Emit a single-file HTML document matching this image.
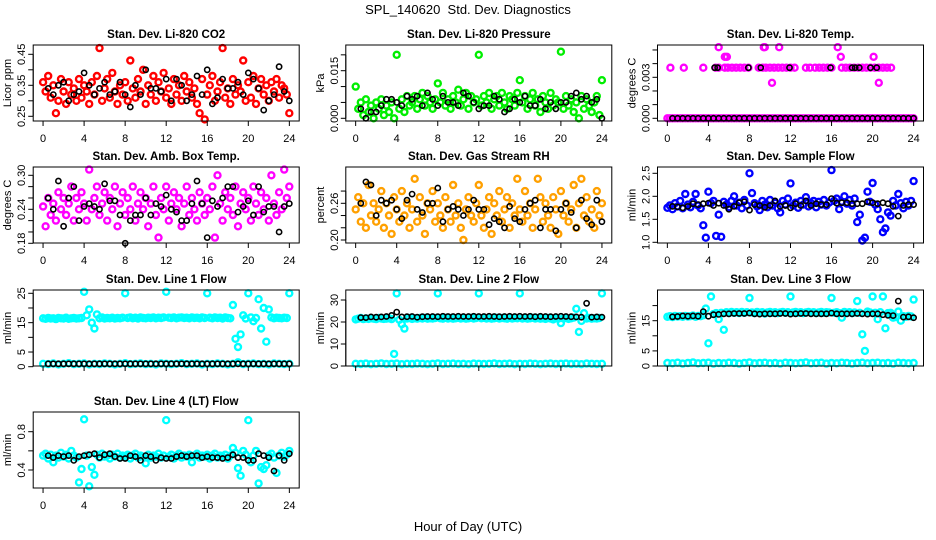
<!DOCTYPE html>
<html><head><meta charset="utf-8"><style>
html,body{margin:0;padding:0;background:#fff;}
svg{display:block;font-family:"Liberation Sans",Arial,sans-serif;}
</style></head><body>
<svg id="chart" width="936" height="540" viewBox="0 0 936 540">
<rect width="936" height="540" fill="#fff"/>
<text x="468" y="14" text-anchor="middle" font-size="13">SPL_140620&#160; Std. Dev. Diagnostics</text>
<text x="468" y="531" text-anchor="middle" font-size="13">Hour of Day (UTC)</text>
</svg>
<script>
// ---- data ----
const xTicks = [0,4,8,12,16,20,24];
const co2 = [.36,.33,.38,.31,.35,.26,.30,.37,.33,.29,.36,.32,.34,.30,.37,.31,.35,.33,.29,.36,.32,.38,.47,.30,.34,.37,.31,.39,.33,.29,.35,.32,.36,.30,.43,.34,.31,.37,.33,.40,.29,.35,.32,.38,.30,.36,.33,.39,.31,.34,.29,.37,.32,.35,.30,.38,.33,.36,.31,.34,.29,.26,.37,.24,.32,.35,.38,.30,.33,.36,.47,.31,.34,.29,.37,.32,.35,.33,.43,.30,.36,.31,.38,.29,.34,.37,.32,.35,.30,.36,.33,.37,.31,.35,.34,.32,.26];
const co2Blk = [.34,.32,.35,.36,.30,.32,.33,.39,.35,.32,.34,.36,.32,.33,.36,.32,.28,.35,.32,.40,.34,.34,.33,.37,.30,.37,.35,.30,.32,.38,.32,.40,.29,.31,.37,.34,.34,.36,.32,.39,.37,.34,.27,.30,.32,.41,.33,.30];
const pres = [.010,.003,.005,.001,.006,.002,.004,.000,.005,.003,.006,.001,.004,.002,.005,.000,.020,.003,.006,.002,.007,.004,.005,.007,.003,.006,.008,.004,.007,.005,.003,.006,.011,.005,.008,.004,.006,.003,.007,.005,.009,.004,.006,.008,.003,.007,.005,.006,.020,.004,.007,.005,.008,.003,.006,.007,.004,.008,.005,.003,.007,.006,.004,.008,.012,.005,.007,.003,.006,.008,.004,.006,.002,.007,.005,.003,.008,.004,.006,.005,.021,.003,.007,.004,.006,.002,.005,.000,.007,.003,.006,.004,.002,.005,.007,.001,.012];
const presBlk = [.003,.000,.002,.002,.004,.006,.006,.005,.004,.007,.006,.007,.004,.008,.006,.004,.007,.005,.005,.004,.008,.007,.005,.003,.004,.004,.007,.006,.002,.003,.006,.005,.007,.004,.004,.006,.003,.005,.003,.005,.005,.007,.008,.006,.007,.005,.006,.000];
const tempHours = [0.3,1.6,3.5,4.7,5.0,5.6,5.9,6.3,6.7,7.1,7.5,7.9,8.9,9.3,9.6,10.0,10.4,10.8,11.2,11.6,12.0,12.4,13.5,13.9,14.4,14.8,15.2,15.6,16.0,17.0,17.4,17.8,18.2,18.6,19.0,19.4,19.8,20.2,20.6,21.0,21.4,21.8,5.0,5.6,5.8,9.4,9.5,10.2,10.9,16.6,16.9,20.1,20.6];
const tempVals = [.0037,.0037,.0037,.0037,.0037,.0037,.0037,.0037,.0037,.0037,.0037,.0037,.0037,.0037,.0037,.0037,.0037,.0037,.0037,.0037,.0037,.0037,.0037,.0037,.0037,.0037,.0037,.0037,.0037,.0037,.0037,.0037,.0037,.0037,.0037,.0037,.0037,.0037,.0037,.0037,.0037,.0037,.0052,.0045,.0045,.0052,.0052,.0026,.0052,.0052,.0045,.0045,.0026];
const tempZero = [0,0,0,0,0,0,0,0,0,0,0,0,0,0,0,0,0,0,0,0,0,0,0,0,0,0,0,0,0,0,0,0,0,0,0,0,0,0,0,0,0,0,0,0,0,0,0,0,0,0,0,0,0,0,0,0,0,0,0,0,0,0,0,0,0,0,0,0,0,0,0,0,0,0,0,0,0,0,0,0,0,0,0,0,0,0,0,0,0,0,0,0,0,0,0,0,0];
const tempBlkHours = [4.6,4.9,7.9,9.1,11.9,15.9,18.0,18.3,18.7,19.8,20.4];
const tempBlkVals = [.0037,.0037,.0037,.0037,.0037,.0037,.0037,.0037,.0037,.0037,.0037];
const tempBlkZero = [0,0,0,0,0,0,0,0,0,0,0,0,0,0,0,0,0,0,0,0,0,0,0,0,0,0,0,0,0,0,0,0,0,0,0,0,0,0,0,0,0,0,0,0,0,0,0,0];
const amb = [.245,.21,.26,.23,.25,.22,.27,.24,.26,.23,.25,.28,.22,.26,.24,.27,.25,.22,.31,.24,.26,.28,.23,.25,.27,.22,.26,.24,.28,.21,.25,.27,.23,.26,.24,.28,.22,.25,.27,.24,.26,.21,.25,.28,.23,.19,.26,.24,.28,.22,.25,.27,.24,.26,.21,.25,.28,.23,.26,.24,.22,.27,.25,.23,.26,.24,.28,.19,.30,.25,.22,.27,.24,.26,.23,.28,.21,.25,.27,.24,.26,.22,.28,.25,.23,.27,.24,.26,.22,.30,.25,.23,.27,.24,.31,.26,.28];
const ambBlk = [.26,.24,.29,.21,.26,.28,.22,.245,.25,.245,.24,.285,.255,.255,.23,.18,.22,.23,.23,.26,.23,.25,.245,.265,.24,.235,.22,.22,.25,.29,.25,.19,.255,.245,.26,.28,.28,.235,.245,.255,.23,.28,.235,.245,.245,.20,.245,.25];
const rh = [.25,.27,.23,.26,.22,.29,.24,.26,.23,.25,.28,.22,.26,.24,.21,.27,.25,.23,.28,.24,.26,.22,.25,.30,.23,.27,.24,.21,.26,.25,.28,.23,.26,.24,.22,.27,.25,.23,.29,.24,.26,.22,.20,.25,.27,.24,.23,.26,.29,.24,.22,.25,.27,.21,.26,.24,.28,.23,.25,.27,.22,.26,.24,.30,.25,.23,.28,.24,.26,.22,.25,.30,.27,.23,.26,.24,.22,.27,.25,.21,.28,.24,.26,.23,.25,.29,.22,.26,.30,.24,.27,.23,.25,.22,.28,.24,.26];
const rhBlk = [.26,.295,.29,.24,.265,.26,.265,.25,.235,.265,.275,.25,.245,.26,.26,.285,.23,.25,.255,.25,.24,.25,.265,.25,.25,.225,.235,.23,.22,.255,.235,.23,.25,.26,.265,.22,.25,.25,.215,.25,.26,.245,.22,.265,.235,.225,.265,.23];
const sflow = [1.75,1.8,1.72,1.85,1.78,1.9,1.74,2.05,1.82,1.76,1.88,2.05,1.8,1.74,1.37,1.1,2.1,1.85,1.9,1.14,1.6,1.12,1.88,1.82,1.76,1.9,2.0,1.8,1.86,1.74,1.92,1.8,2.5,2.07,1.85,1.78,1.7,1.9,1.82,1.76,1.92,1.8,1.86,1.74,1.65,1.9,1.82,1.95,2.28,1.8,1.86,1.75,1.9,1.82,1.98,1.78,1.85,1.9,1.76,1.88,1.82,1.92,1.8,1.86,2.57,1.9,1.95,1.72,1.88,2.0,1.84,1.92,1.8,1.95,1.44,1.6,1.04,1.1,2.1,1.88,2.29,1.82,1.72,1.5,1.22,1.3,1.65,1.58,1.9,1.8,2.05,1.85,1.74,1.88,1.8,1.9,2.33];
const sflowBlk = [1.78,1.77,1.75,1.78,1.84,1.82,1.84,1.85,1.8,1.85,1.8,1.72,1.78,1.86,1.88,1.7,1.82,1.8,1.76,1.8,1.9,1.78,1.8,1.75,1.84,1.8,1.9,1.8,1.84,1.82,1.82,1.95,1.85,1.86,1.86,1.84,1.84,1.84,1.88,1.86,1.84,1.86,1.84,1.78,1.57,1.8,1.82,1.82];
const line1 = [16.5,16.3,16.6,16.4,16.5,16.2,16.6,16.5,16.4,16.7,16.3,16.5,16.6,16.4,16.5,16.6,25.5,17.5,19.5,15,13,17.8,16.5,16.8,16.4,16.6,16.5,16.7,16.4,16.6,16.5,16.7,25,16.6,16.8,16.5,16.7,16.4,16.8,16.6,16.5,16.7,16.6,16.8,16.5,16.7,16.6,16.8,25.5,16.7,16.6,16.8,16.5,16.7,16.8,16.6,16.7,16.5,16.8,16.6,16.7,16.5,16.8,16.6,25,16.7,16.5,16.8,16.6,16.7,16.4,16.8,16.6,16.5,21,9.5,6.7,11,17.5,16.4,25,16.8,15.5,16.6,23,13,20,8.5,19.5,16.8,16.5,16.7,16.6,16.5,16.7,16.6,25];
const line1Low = [1.0,0.9,1.1,0.8,1.0,1.2,0.9,1.0,1.1,0.8,1.0,0.9,1.1,1.0,0.8,1.0,1.2,0.9,1.0,1.1,0.9,1.0,0.8,1.1,1.0,0.9,1.0,1.2,0.9,1.0,1.1,0.8,1.0,0.9,1.1,1.0,0.8,1.0,1.5,0.9,1.0,1.1,0.9,1.0,0.8,1.1,1.0,0.9,1.0];
const line1Blk = [1,1,1,1,1,1,1,1,1,1,1,1,1,1,1,1,1,1,1,1,1,1,1,1,1,1,1,1,1,1,1,1,1,1,1,1,1,1,1,1,1,1,1,1,1,1,1,1];
const line2 = [21.2,21.5,21.8,21.3,21.6,21.4,21.7,21.5,21.3,21.8,21.6,21.4,21.5,21.7,21.3,5.5,33,21,19,17,21.6,21.8,21.4,21.7,21.5,21.8,21.6,21.9,21.5,21.7,21.6,21.8,33,21.7,21.5,21.9,21.6,21.8,21.5,21.7,21.9,21.6,21.8,21.5,21.7,21.9,21.6,21.8,33,21.7,21.9,21.6,21.8,21.5,21.7,21.9,21.6,21.8,21.7,21.5,21.9,21.6,21.8,21.7,33,21.6,21.8,21.5,21.7,21.9,21.6,21.8,21.5,21.7,21.4,21.8,21.6,21.2,21.7,21.5,19.5,21.6,21.8,21.4,21.7,22,26,15.5,20.5,24,21.6,21.8,21.5,21.7,21.6,21.8,33];
const line2Low = [1.0,0.9,1.1,0.8,1.0,1.2,0.9,1.0,1.1,0.8,1.0,0.9,1.1,1.0,0.8,1.0,1.2,0.9,1.0,1.1,0.9,1.0,0.8,1.1,1.0,0.9,1.0,1.2,0.9,1.0,1.1,0.8,1.0,0.9,1.1,1.0,0.8,1.0,1.1,0.9,1.0,1.1,0.9,1.0,0.8,1.1,1.0,0.9,1.0];
const line2Blk = [22,22,22.3,22.2,22.3,22.5,23,24.5,22.3,22.4,22.5,22.2,22.4,22.5,22.5,22.4,22.6,22.5,22.5,22.6,22.5,22.5,22.6,22.5,22.5,22.6,22.5,22.4,22.5,22.6,22.5,22.6,22.5,22.6,22.4,22.6,22.5,22.4,22.5,22.6,22.5,22.4,22.3,22.2,28.5,22.2,22.3,22.2];
const line3 = [16.3,16.5,16.2,16.6,16.4,16.5,16.3,16.6,16.4,16.5,16.7,16.3,16.6,16.5,16.8,19,7.5,23,17.2,17.5,15.5,17.6,12,17.8,17.5,17.9,17.6,17.8,17.5,17.9,17.6,17.8,22.5,17.7,17.5,17.9,17.6,17.8,17.4,17.7,17.9,17.6,17.8,17.5,17.7,17.9,17.6,17.8,23,17.7,17.9,17.6,17.8,17.5,17.7,17.9,17.6,17.8,17.5,17.7,17.9,17.6,17.8,17.7,22.5,17.6,17.8,17.5,16,17.9,17.6,17.8,17.5,17.7,21.5,17.6,10.5,5,18,17.7,23,17.6,15.5,17.8,23,12.5,17.5,17.6,16,16.2,18,15,16.5,16.3,16.6,16.4,22];
const line3Low = [1.0,0.9,1.1,0.8,1.0,1.2,0.9,1.0,1.1,0.8,1.0,0.9,1.1,1.0,0.8,1.0,1.2,0.9,1.0,1.1,0.9,1.0,0.8,1.1,1.0,0.9,1.0,1.2,0.9,1.0,1.1,0.8,1.0,0.9,1.1,1.0,0.8,1.0,1.1,0.9,1.0,1.1,0.9,1.0,0.8,1.1,1.0,0.9,1.0];
const line3Blk = [16.3,16.4,16.6,16.5,16.6,16.5,18,16.5,17,17.1,17.3,17.3,17.4,17.4,17.4,17.5,17.3,17.2,17.3,17.3,17.3,17.4,17.4,17.2,17.3,17.4,17.4,17.3,17.3,17.3,17.3,17.5,17.3,17.3,17.3,17.3,17.4,17.3,17.2,17.3,17.3,17.0,16.8,16.7,21.5,16.2,16.3,16.0];
const line4 = [.55,.57,.52,.56,.48,.55,.53,.58,.54,.56,.52,.60,.55,.53,.27,.41,.93,.55,.23,.43,.35,.56,.53,.57,.54,.55,.52,.56,.54,.57,.53,.55,.54,.56,.52,.55,.57,.53,.55,.54,.47,.56,.53,.55,.54,.57,.53,.55,.92,.54,.56,.52,.55,.57,.53,.55,.54,.56,.48,.55,.57,.53,.55,.54,.56,.52,.55,.57,.53,.55,.54,.56,.52,.55,.63,.58,.42,.34,.60,.56,.92,.48,.55,.60,.26,.43,.41,.45,.55,.57,.53,.37,.55,.58,.54,.56,.60];
const line4Blk = [.55,.53,.55,.54,.55,.50,.54,.55,.56,.57,.53,.56,.57,.54,.52,.52,.55,.54,.50,.55,.54,.50,.53,.52,.52,.54,.55,.54,.55,.55,.53,.54,.53,.53,.52,.53,.56,.53,.53,.50,.50,.57,.55,.53,.39,.55,.50,.57];

// ---- layout ----
const NS = 'http://www.w3.org/2000/svg';
const svg = document.getElementById('chart');
const colX = [33.2,345.8,657.5], rowY = [45,167,290,412], BW = 266, BH = 76;
function grid(n){const a=[];for(let i=0;i<n;i++)a.push(i*24/(n-1));return a;}
function half(n){const a=[];for(let i=0;i<n;i++)a.push(0.5*(i+1));return a;}
function el(tag, attrs, parent){const e=document.createElementNS(NS,tag);for(const k in attrs)e.setAttribute(k,attrs[k]);(parent||svg).appendChild(e);return e;}

const panels = [
 {c:0,r:0,t:'Stan. Dev. Li-820 CO2',yl:'Licor ppm',cal:[.25,116.3,.45,54.3],ticks:[.25,.30,.35,.40,.45],labs:[[.25,'0.25'],[.35,'0.35'],[.45,'0.45']],
  series:[[grid(co2.length),co2,'#ff0000'],[half(co2Blk.length),co2Blk,'#000']]},
 {c:1,r:0,t:'Stan. Dev. Li-820 Pressure',yl:'kPa',cal:[0,118.3,.015,70.7],ticks:[0,.005,.01,.015,.02],labs:[[0,'0.000'],[.015,'0.015']],
  series:[[grid(pres.length),pres,'#00ee00'],[half(presBlk.length),presBlk,'#000']]},
 {c:2,r:0,t:'Stan. Dev. Li-820 Temp.',yl:'degrees C',cal:[0,118.3,.003,77.3],ticks:[0,.001,.002,.003,.004,.005],labs:[[0,'0.000'],[.003,'0.003']],
  series:[[tempHours,tempVals,'#ff00ff'],[grid(tempZero.length),tempZero,'#ff00ff'],[tempBlkHours,tempBlkVals,'#000'],[half(tempBlkZero.length),tempBlkZero,'#000']]},
 {c:0,r:1,t:'Stan. Dev. Amb. Box Temp.',yl:'degrees C',cal:[.18,243.3,.30,175.3],ticks:[.18,.20,.22,.24,.26,.28,.30],labs:[[.18,'0.18'],[.24,'0.24'],[.30,'0.30']],
  series:[[grid(amb.length),amb,'#ff00ff'],[half(ambBlk.length),ambBlk,'#000']]},
 {c:1,r:1,t:'Stan. Dev. Gas Stream RH',yl:'percent',cal:[.20,240,.26,203.3],ticks:[.20,.22,.24,.26,.28],labs:[[.20,'0.20'],[.26,'0.26']],
  series:[[grid(rh.length),rh,'#ffa000'],[half(rhBlk.length),rhBlk,'#000']]},
 {c:2,r:1,t:'Stan. Dev. Sample Flow',yl:'ml/min',cal:[1.0,242.3,2.5,173.3],ticks:[1,1.5,2,2.5],labs:[[1,'1.0'],[1.5,'1.5'],[2,'2.0'],[2.5,'2.5']],
  series:[[grid(sflow.length),sflow,'#0000ff'],[half(sflowBlk.length),sflowBlk,'#000']]},
 {c:0,r:2,t:'Stan. Dev. Line 1 Flow',yl:'ml/min',cal:[0,366.7,25,293.3],ticks:[0,5,10,15,20,25],labs:[[0,'0'],[5,'5'],[15,'15'],[25,'25']],noX:true,
  series:[[grid(line1.length),line1,'#00ffff'],[grid(line1Low.length),line1Low,'#00ffff'],[half(line1Blk.length),line1Blk,'#000']]},
 {c:1,r:2,t:'Stan. Dev. Line 2 Flow',yl:'ml/min',cal:[0,366,30,300],ticks:[0,10,20,30],labs:[[0,'0'],[10,'10'],[20,'20'],[30,'30']],noX:true,
  series:[[grid(line2.length),line2,'#00ffff'],[grid(line2Low.length),line2Low,'#00ffff'],[half(line2Blk.length),line2Blk,'#000']]},
 {c:2,r:2,t:'Stan. Dev. Line 3 Flow',yl:'ml/min',cal:[0,366,15,320.7],ticks:[0,5,10,15,20],labs:[[0,'0'],[5,'5'],[15,'15']],noX:true,
  series:[[grid(line3.length),line3,'#00ffff'],[grid(line3Low.length),line3Low,'#00ffff'],[half(line3Blk.length),line3Blk,'#000']]},
 {c:0,r:3,t:'Stan. Dev. Line 4 (LT) Flow',yl:'ml/min',cal:[.4,470,.8,431.7],ticks:[.4,.6,.8],labs:[[.4,'0.4'],[.8,'0.8']],
  series:[[grid(line4.length),line4,'#00ffff'],[half(line4Blk.length),line4Blk,'#000']]}
];

panels.forEach((p,pi)=>{
  const L=colX[p.c], T=rowY[p.r], B=T+BH, R=L+BW;
  const g=el('g',{});
  
  
  const xs = h => L + BW*(h+0.96)/25.92;
  const [v1,p1,v2,p2]=p.cal;
  const ys = v => p1 + (v-v1)*(p2-p1)/(v2-v1);
  const t=el('text',{x:(L+R)/2,y:T-7,'text-anchor':'middle','font-size':'11.5','font-weight':'bold'},g);
  t.textContent=p.t;
  
  
  const pts=el('g',{fill:'none'},g);
  
  
  p.series.forEach(s=>{
    const [hs,vs,col]=s;
    const blk = col==='#000';
    for(let i=0;i<vs.length&&i<hs.length;i++){
      const c=el('circle',{cx:xs(hs[i]).toFixed(1),cy:ys(vs[i]).toFixed(1),r:blk?'2.6':'3',stroke:col,'stroke-width':blk?'1.6':'2.4'},pts);
      
      
    }
  });
  const bx=el('rect',{x:L,y:T,width:BW,height:BH,fill:'none',stroke:'#000','stroke-width':'1'},g);
  
  
  const xa=el('g',{},g);
  
  
  el('line',{x1:xs(xTicks[0]),x2:xs(xTicks[xTicks.length-1]),y1:B,y2:B,stroke:'#000'},xa);
  xTicks.forEach(h=>{
    el('line',{x1:xs(h),x2:xs(h),y1:B,y2:B+5,stroke:'#000'},xa);
    if(!p.noX){
      const tx=el('text',{x:xs(h),y:B+21,'text-anchor':'middle','font-size':'11'},xa);
      tx.textContent=String(h);
      
      
    }
  });
  const ya=el('g',{},g);
  
  
  el('line',{x1:L,x2:L,y1:ys(p.ticks[0]),y2:ys(p.ticks[p.ticks.length-1]),stroke:'#000'},ya);
  p.ticks.forEach(v=>{el('line',{x1:L-5,x2:L,y1:ys(v),y2:ys(v),stroke:'#000'},ya);});
  p.labs.forEach(([v,s])=>{
    const y=ys(v), x=L-8;
    const tl=el('text',{x:x,y:y,'text-anchor':'middle','font-size':'11',transform:`rotate(-90 ${x} ${y})`},ya);
    tl.textContent=s;
    
    
  });
  const yx=L-22, yy=(T+B)/2;
  const yt=el('text',{x:yx,y:yy,'text-anchor':'middle','font-size':'11',transform:`rotate(-90 ${yx} ${yy})`},ya);
  yt.textContent=p.yl;
  
  
});
</script>
</body></html>
